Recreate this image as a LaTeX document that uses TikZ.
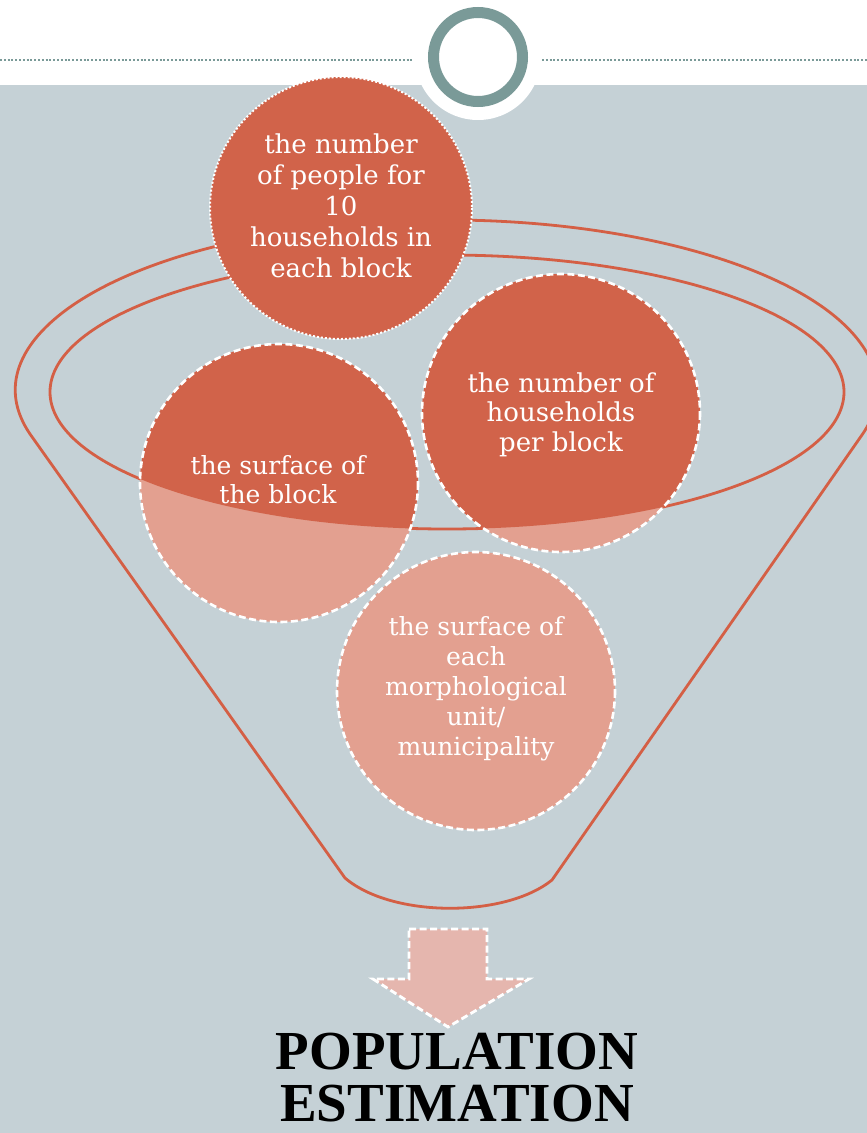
\documentclass[tikz,border=0pt]{standalone}
\usepackage{fontspec}
\setmainfont{DejaVu Serif}
\newfontfamily\headfont{Liberation Serif}
\definecolor{panel}{HTML}{C5D1D6}
\definecolor{rust}{HTML}{D1634A}
\definecolor{salmon}{HTML}{E3A090}
\definecolor{slate}{HTML}{7A9A98}
\definecolor{funnel}{HTML}{D45F45}
\definecolor{arrowpink}{HTML}{E5B6AE}
\begin{document}
\begin{tikzpicture}[x=1pt,y=-1pt,
  funnelline/.style={draw=funnel, line width=2.8pt, line join=round},
  dashrim/.style={draw=white, line width=2.6pt, dash pattern=on 7pt off 3.5pt},
  dotrim/.style={draw=white, line width=2pt, dash pattern=on 2pt off 2pt},
  bubbletext/.style={text=white, align=center, anchor=north, inner sep=0pt},
  dotline/.style={draw=slate, line width=2pt, dash pattern=on 2pt off 1.8pt}]
  \useasboundingbox (0,0) rectangle (867,1133);

  % header band and panel
  \fill[white] (0,0) rectangle (867,85);
  \fill[panel] (0,85) rectangle (867,1133);
  \fill[white] (478,57) circle[radius=63];
  \draw[slate, line width=11pt] (478,57) circle[radius=44.5];
  \draw[dotline] (0,60) -- (413,60);
  \draw[dotline] (542,60) -- (867,60);

  % funnel outline
  \draw[funnelline] (345,878) -- (30,434)
    arc[start angle=165, end angle=375, x radius=431, y radius=170]
    -- (552,880) .. controls (505,918) and (392,918) .. (345,878);
  % funnel mouth
  \draw[funnelline] (447,392) ellipse[x radius=397, y radius=137];

  % lower bubbles
  \coordinate (c2) at (279,483);
  \coordinate (c3) at (561,413);
  \coordinate (c4) at (476,691);
  \fill[salmon] (c2) circle[radius=139];
  \fill[salmon] (c3) circle[radius=139];
  \fill[salmon] (c4) circle[radius=139];
  \begin{scope}
    \clip (447,392) ellipse[x radius=397, y radius=137];
    \fill[rust] (c2) circle[radius=139];
    \fill[rust] (c3) circle[radius=139];
    \fill[rust] (c4) circle[radius=139];
  \end{scope}
  \draw[dashrim] (c2) circle[radius=139];
  \draw[dashrim] (c3) circle[radius=139];
  \draw[dashrim] (c4) circle[radius=139];

  % top bubble
  \coordinate (c1) at (341,208);
  \fill[rust] (c1) circle[radius=131];
  \draw[dotrim] (c1) circle[radius=131];

  % bubble labels
  \node[bubbletext, font=\fontsize{26}{31}\selectfont] (t1) at (341,133.5)
    {the number\\of people for\\10\\households in\\each block};
  \node[bubbletext, font=\fontsize{25}{29}\selectfont] (t2) at (278,455)
    {the surface of\\the block};
  \node[bubbletext, font=\fontsize{26}{29.5}\selectfont] (t3) at (561,372.5)
    {the number of\\households\\per block};
  \node[bubbletext, font=\fontsize{25}{30}\selectfont] (t4) at (476,616)
    {the surface of\\each\\morphological\\unit/\\municipality};

  % result arrow
  \draw[fill=arrowpink, dashrim, line width=2.8pt]
    (409,929) -- (487,929) -- (487,979) -- (529,979) -- (448,1027)
    -- (373,979) -- (409,979) -- cycle;

  % result label
  \node[anchor=north, inner sep=0pt, align=center,
        font=\headfont\bfseries\fontsize{55}{52}\selectfont] (res) at (457,1033)
    {POPULATION\\ESTIMATION};
\end{tikzpicture}
\end{document}
